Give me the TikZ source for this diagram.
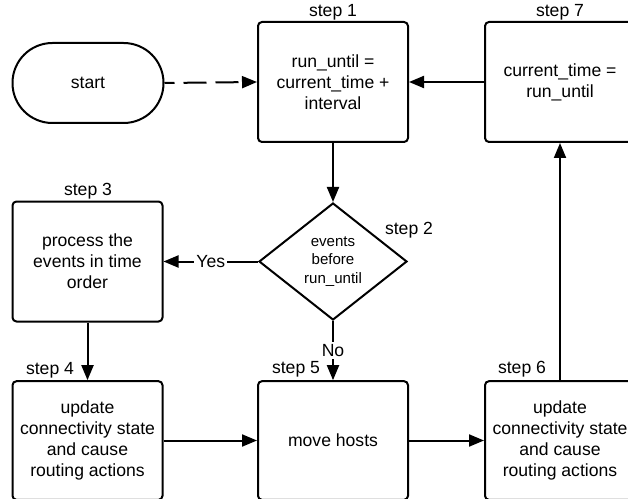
\documentclass[tikz,border=0pt]{standalone}
\usepackage{fontspec}
\setmainfont{Liberation Sans}
\usetikzlibrary{shapes.geometric,arrows.meta}
\begin{document}
\begin{tikzpicture}[x=0.75pt,y=-0.75pt,
  font=\fontsize{13.2pt}{15.8pt}\selectfont,
  line width=1.5pt,
  >={Triangle[length=11.25pt,width=9pt]},
  stepbox/.style={draw,rounded corners=3pt,minimum width=112.5pt,minimum height=90pt,inner sep=0pt,align=center},
  lowbox/.style={stepbox,minimum height=89pt},
  terminal/.style={draw,rounded corners=29.9pt,minimum width=113.25pt,minimum height=60pt,inner sep=0pt},
  decision/.style={draw,diamond,minimum width=111pt,minimum height=87.75pt,inner sep=0pt,align=center,
    font=\fontsize{11.3pt}{13.9pt}\selectfont},
  steplabel/.style={inner sep=0pt},
  flow/.style={->},
  startflow/.style={->,dash pattern=on 17.25pt off 6.75pt,dash phase=9.75pt},
  branch/.style={fill=white,inner sep=1.5pt}
]
\useasboundingbox (0,0) rectangle (628,499);

% nodes of the loop
\node[terminal] (start) at (88,83) {start};
\node[stepbox] (s1) at (333,82) {run\_until =\\current\_time +\\interval};
\node[stepbox] (s7) at (560,82) {current\_time =\\run\_until};
\node[decision] (s2) at (333,261.5) {events\\before\\run\_until};
\node[stepbox] (s3) at (87.5,261.5) {process the\\events in time\\order};
\node[lowbox] (s4) at (87.5,440.5) {update\\connectivity state\\and cause\\routing actions};
\node[lowbox] (s5) at (333,440.5) {move hosts};
\node[lowbox] (s6) at (560,440.5) {update\\connectivity state\\and cause\\routing actions};

% step captions
\node[steplabel] (l1) at (333,12) {step 1};
\node[steplabel] (l7) at (560,12) {step 7};
\node[steplabel] (l2) at (409,230) {step 2};
\node[steplabel] (l3) at (88,191) {step 3};
\node[steplabel] (l4) at (50,370) {step 4};
\node[steplabel] (l5) at (296,369) {step 5};
\node[steplabel] (l6) at (522,369) {step 6};

% connectors
\draw[startflow] (start.east) -- (s1.west);
\draw[flow] (s1.south) -- (s2.north);
\draw[flow] (s2.west) -- node[branch] (yes) {Yes} (s3.east);
\draw[flow] (s2.south) -- node[branch] (no) {No} (s5.north);
\draw[flow] (s3.south) -- (s4.north);
\draw[flow] (s4.east) -- (s5.west);
\draw[flow] (s5.east) -- (s6.west);
\draw[flow] (s6.north) -- (s7.south);
\draw[flow] (s7.west) -- (s1.east);
\end{tikzpicture}
\end{document}
